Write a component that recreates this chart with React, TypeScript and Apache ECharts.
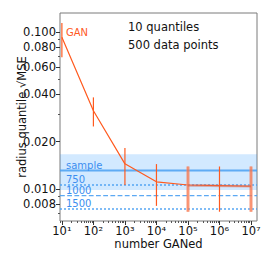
import React, { useEffect, useRef } from "react";
import * as echarts from "echarts";

// GAN curve (x = number GANed, y = radius quantile sqrt(MSE))
const ganX = [1e1, 1e2, 1e3, 1e4, 1e5, 1e6, 1e7];
const ganY = [0.0924, 0.0315, 0.01445, 0.0111, 0.0106, 0.0105, 0.0104];
const ganLow = [0.069, 0.025, 0.0106, 0.0078, 0.00716, 0.00716, 0.00716];
const ganHigh = [0.114, 0.0383, 0.0182, 0.0144, 0.0139, 0.0139, 0.0139];

// overlapping (faded) repeat run
const repX = [1e5, 1e7];
const repY = [0.0105, 0.0104];
const repLow = [0.00716, 0.00716];
const repHigh = [0.0139, 0.0139];

// reference lines (sample sizes)
const refLabels = ["sample", "750", "1000", "1500"];
const refValues = [0.0131, 0.0106, 0.00906, 0.00745];
const bandRange = [0.00986, 0.01663];

const yTicks = [0.008, 0.01, 0.02, 0.04, 0.06, 0.08, 0.1];
const yMinorTicks = [0.007, 0.009, 0.03, 0.05, 0.07, 0.09];
const xTicks = [1e1, 1e2, 1e3, 1e4, 1e5, 1e6, 1e7];
const infoTexts = ["10 quantiles", "500 data points"];

const sup: Record<string, string> = { "0": "⁰", "1": "¹", "2": "²", "3": "³", "4": "⁴", "5": "⁵", "6": "⁶", "7": "⁷", "8": "⁸", "9": "⁹" };

const FONT = "DejaVu Sans";
const ORANGE = "#ff5a1f";
const BLUE = "#4aa0f2";
const BLUE_TEXT = "#3b8ef0";

function xMinor(): number[] {
  const out: number[] = [];
  for (let e = 0; e <= 7; e++) {
    for (let m = 2; m <= 9; m++) out.push(m * Math.pow(10, e));
  }
  return out;
}

export default function App() {
  const ref = useRef<HTMLDivElement>(null);
  useEffect(() => {
    if (!ref.current) return;
    const chart = echarts.init(ref.current, null, { renderer: "svg" });
    const xMin = Math.pow(10, 0.94);
    const xMax = Math.pow(10, 7.19);
    const yMin = 0.00625;
    const yMax = 0.132;

    const errItem = (color: string, width: number) => (params: any, api: any) => {
      const x = api.value(0);
      const p1 = api.coord([x, api.value(1)]);
      const p2 = api.coord([x, api.value(2)]);
      return {
        type: "line",
        shape: { x1: p1[0], y1: p1[1], x2: p2[0], y2: p2[1] },
        style: { stroke: color, lineWidth: width },
      };
    };

    const refStyles = [
      { type: "solid", width: 2, opacity: 0.85 },
      { type: "dotted", width: 2, opacity: 0.7 },
      { type: "dashed", width: 1.2, opacity: 0.9 },
      { type: "dotted", width: 2, opacity: 0.7 },
    ];

    const refSeries = refValues.map((v, i) => ({
      type: "line",
      name: refLabels[i],
      data: [
        {
          value: [xMin, v],
          label: {
            show: true,
            position: "right",
            distance: 6,
            offset: [0, -5.5],
            formatter: refLabels[i],
            color: BLUE_TEXT,
            fontSize: 10,
            fontFamily: FONT,
          },
        },
        { value: [xMax, v] },
      ],
      symbol: "circle",
      symbolSize: 0.01,
      showSymbol: true,
      itemStyle: { color: "transparent" },
      label: { show: false },
      lineStyle: { color: BLUE, type: refStyles[i].type, width: refStyles[i].width, opacity: refStyles[i].opacity },
      silent: true,
      z: 2,
      ...(i === 0
        ? {
            markArea: {
              silent: true,
              itemStyle: { color: "rgba(30,144,255,0.2)" },
              data: [[{ yAxis: bandRange[0] }, { yAxis: bandRange[1] }]],
            },
          }
        : {}),
    }));

    chart.setOption({
      animation: false,
      textStyle: { fontFamily: FONT },
      grid: {
        left: 60,
        right: 13,
        top: 13,
        bottom: 49,
        containLabel: false,
        outerBoundsMode: "none",
        show: true,
        borderColor: "#7a7a7a",
        borderWidth: 1,
        backgroundColor: "transparent",
      },
      xAxis: [
        {
          type: "log",
          logBase: 10,
          min: xMin,
          max: xMax,
          name: "number GANed",
          nameLocation: "middle",
          nameGap: 17,
          nameMoveOverlap: false,
          nameTextStyle: { fontSize: 11.5, color: "#111", fontFamily: FONT },
          axisLine: { show: false },
          splitLine: { show: false },
          axisTick: { show: true, inside: false, length: 4, lineStyle: { color: "#333" }, customValues: xTicks },
          axisLabel: {
            fontSize: 11.5,
            color: "#111",
            fontFamily: FONT,
            margin: 4,
            customValues: xTicks,
            formatter: (v: number) => "10" + String(Math.round(Math.log10(v))).split("").map((c) => sup[c]).join(""),
          },
        },
        {
          type: "log",
          logBase: 10,
          min: xMin,
          max: xMax,
          position: "bottom",
          axisLine: { show: false },
          splitLine: { show: false },
          axisTick: { show: true, inside: false, length: 2, lineStyle: { color: "#555" }, customValues: xMinor() },
          axisLabel: { show: false },
        },
      ],
      yAxis: [
        {
          type: "log",
          logBase: 10,
          min: yMin,
          max: yMax,
          name: "radius quantile √MSE",
          nameLocation: "middle",
          nameGap: 32,
          nameMoveOverlap: false,
          nameTextStyle: { fontSize: 11.5, color: "#111", fontFamily: FONT },
          axisLine: { show: false },
          splitLine: { show: false },
          axisTick: { show: true, inside: false, length: 4, lineStyle: { color: "#333" }, customValues: yTicks },
          axisLabel: {
            fontSize: 11.5,
            color: "#111",
            fontFamily: FONT,
            margin: 4,
            customValues: yTicks,
            formatter: (v: number) => v.toFixed(3),
          },
        },
        {
          type: "log",
          logBase: 10,
          min: yMin,
          max: yMax,
          position: "left",
          axisLine: { show: false },
          splitLine: { show: false },
          axisTick: { show: true, inside: false, length: 2, lineStyle: { color: "#555" }, customValues: yMinorTicks },
          axisLabel: { show: false },
        },
      ],
      series: [
        ...refSeries,
        {
          type: "line",
          name: "GAN",
          data: ganX.map((x, i) => [x, ganY[i]]),
          showSymbol: false,
          symbol: "none",
          lineStyle: { color: ORANGE, width: 1.2 },
          itemStyle: { color: ORANGE },
          z: 5,
        },
        {
          type: "custom",
          name: "GAN errors",
          data: ganX.map((x, i) => [x, ganLow[i], ganHigh[i]]),
          renderItem: errItem(ORANGE, 1.2),
          z: 5,
        },
        {
          type: "line",
          name: "GAN repeat",
          data: repX.map((x, i) => [x, repY[i]]),
          showSymbol: false,
          symbol: "none",
          lineStyle: { color: "rgba(210,100,80,0.45)", width: 2.5 },
          z: 6,
        },
        {
          type: "custom",
          name: "GAN repeat errors",
          data: repX.map((x, i) => [x, repLow[i], repHigh[i]]),
          renderItem: errItem("rgba(245,140,110,0.45)", 4),
          z: 6,
        },
      ],
      graphic: [
        { type: "text", left: 66, top: 27, style: { text: "GAN", fill: ORANGE, font: `10px '${FONT}'` } },
        { type: "text", left: 128, top: 21, style: { text: infoTexts[0], fill: "#111", font: `11.5px '${FONT}'` } },
        { type: "text", left: 128, top: 39, style: { text: infoTexts[1], fill: "#111", font: `11.5px '${FONT}'` } },
      ],
    });
    return () => chart.dispose();
  }, []);
  return <div ref={ref} style={{ width: 270, height: 270, position: "absolute", left: 0, top: 0 }} />;
}
